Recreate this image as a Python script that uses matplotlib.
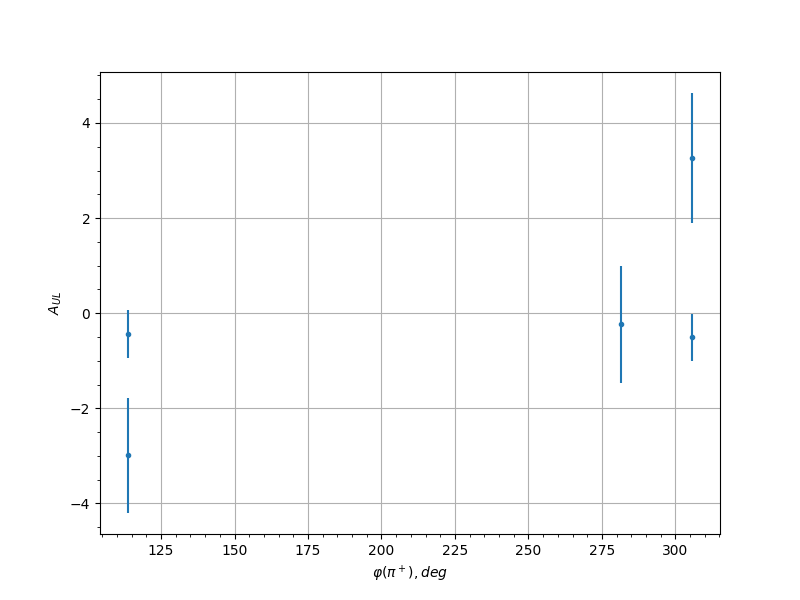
import numpy as np
import matplotlib
matplotlib.use("Agg")
import matplotlib.pyplot as plt

# asymmetry vs phi
phi = [113.8, 113.8, 281.5, 305.6, 305.6]
a_ul = [-0.44, -2.99, -0.23, 3.26, -0.51]
a_err = [0.51, 1.21, 1.23, 1.37, 0.50]

fig, ax = plt.subplots(figsize=(8, 6), dpi=100)
ax.errorbar(phi, a_ul, yerr=a_err, fmt='.')
ax.set_xlabel(r"$\varphi(\pi^+), deg$")
ax.set_ylabel(r"$A_{UL}$")
ax.minorticks_on()
ax.grid(which='major')
plt.savefig("out.png")
